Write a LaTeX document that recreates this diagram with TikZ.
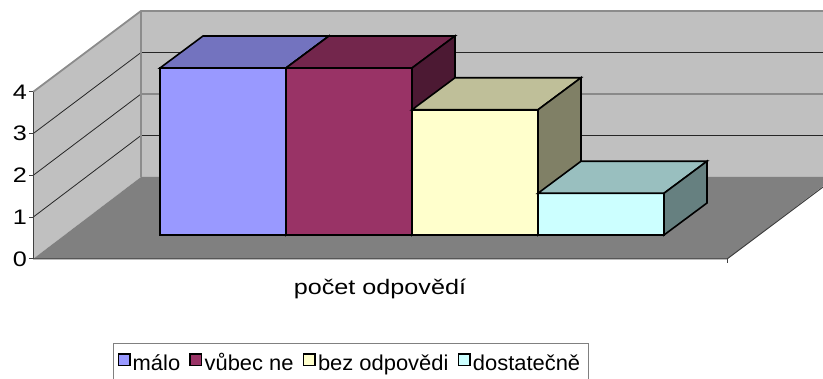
\documentclass[tikz,border=0pt]{standalone}
\usepackage{fontspec}
\newfontfamily\chartfont[FakeStretch=1.2]{Liberation Sans}
\newfontfamily\keyfont[FakeStretch=1.02]{Liberation Sans}
\usetikzlibrary{positioning}
\definecolor{wallgray}{HTML}{C0C0C0}
\definecolor{floorgray}{HTML}{808080}
\definecolor{malo}{HTML}{9999FF}
\definecolor{vubec}{HTML}{993366}
\definecolor{bezodp}{HTML}{FFFFCC}
\definecolor{dostat}{HTML}{CCFFFF}
\begin{document}
\begin{tikzpicture}[x=1pt,y=1pt,
    bar/.style={draw=black,line width=1.6pt,line join=miter},
    edge/.style={draw=black!45,line width=1.8pt},
    grid/.style={draw=black!85,line width=0.8pt},
    lbl/.style={font=\chartfont\fontsize{21}{25}\selectfont,inner sep=0pt},
    keytext/.style={font=\keyfont\fontsize{21.5}{25}\selectfont,inner sep=0pt,text height=21pt,text depth=0pt},
    keybox/.style={draw=black,line width=1.5pt,minimum size=11.5pt,inner sep=0pt}]
  \useasboundingbox (0,0) rectangle (823,378);
  \clip (0,0) rectangle (823,378);
  % walls and floor
  \fill[wallgray] (141,201) rectangle (835,367);
  \fill[wallgray] (33,119) -- (33,286) -- (141,367) -- (141,201) -- cycle;
  \fill[floorgray] (33,119) -- (141,201) -- (835,201) -- (727,119) -- cycle;
  \foreach \v in {1,2,3}
    \draw[grid] (33,119+41.75*\v) -- (141,201+41.5*\v) -- (835,201+41.5*\v);
  \draw[edge] (33,286) -- (141,367) -- (835,367);
  \draw[edge] (141,201) -- (141,367);
  % axes
  \draw[black!75,line width=1pt] (33,119) -- (33,286);
  \foreach \v in {0,...,4} {
    \draw[black!75,line width=1pt] (29,119+41.75*\v) -- (33,119+41.75*\v);
    \node[lbl,anchor=east] (y\v) at (27,119+41.75*\v) {\v};
  }
  \draw[black!75,line width=1pt] (33,119) -- (727,119) -- (835,200);
  \draw[black!75,line width=1pt] (727,119) -- (727,115);
  % bars
  \foreach \i/\v/\c in {0/4/malo,1/4/vubec,2/3/bezodp,3/1/dostat} {
    \pgfmathsetmacro\xa{160+126*\i}
    \pgfmathsetmacro\yt{143+41.75*\v}
    \filldraw[bar,fill=\c] (\xa,143) rectangle (\xa+126,\yt);
    \filldraw[bar,fill=\c!75!black] (\xa,\yt) -- ++(43,32) -- ++(126,0) -- ++(-43,-32) -- cycle;
    \filldraw[bar,fill=\c!50!black] (\xa+126,143) -- ++(43,32) -- (\xa+169,\yt+32) -- ++(-43,-32) -- cycle;
  }
  \node[lbl,anchor=base] (cat) at (380,83) {počet odpovědí};
  % legend
  \draw[black!50,line width=1pt] (113,-5) rectangle (588,34);
  \node[keybox,fill=malo] (k1) at (124,18) {};
  \node[keytext,right=2pt of k1] (t1) {málo};
  \node[keybox,fill=vubec,right=9pt of t1] (k2) {};
  \node[keytext,right=2pt of k2] (t2) {vůbec ne};
  \node[keybox,fill=bezodp,right=9pt of t2] (k3) {};
  \node[keytext,right=2pt of k3] (t3) {bez odpovědi};
  \node[keybox,fill=dostat,right=9pt of t3] (k4) {};
  \node[keytext,right=2pt of k4] (t4) {dostatečně};
\end{tikzpicture}
\end{document}
